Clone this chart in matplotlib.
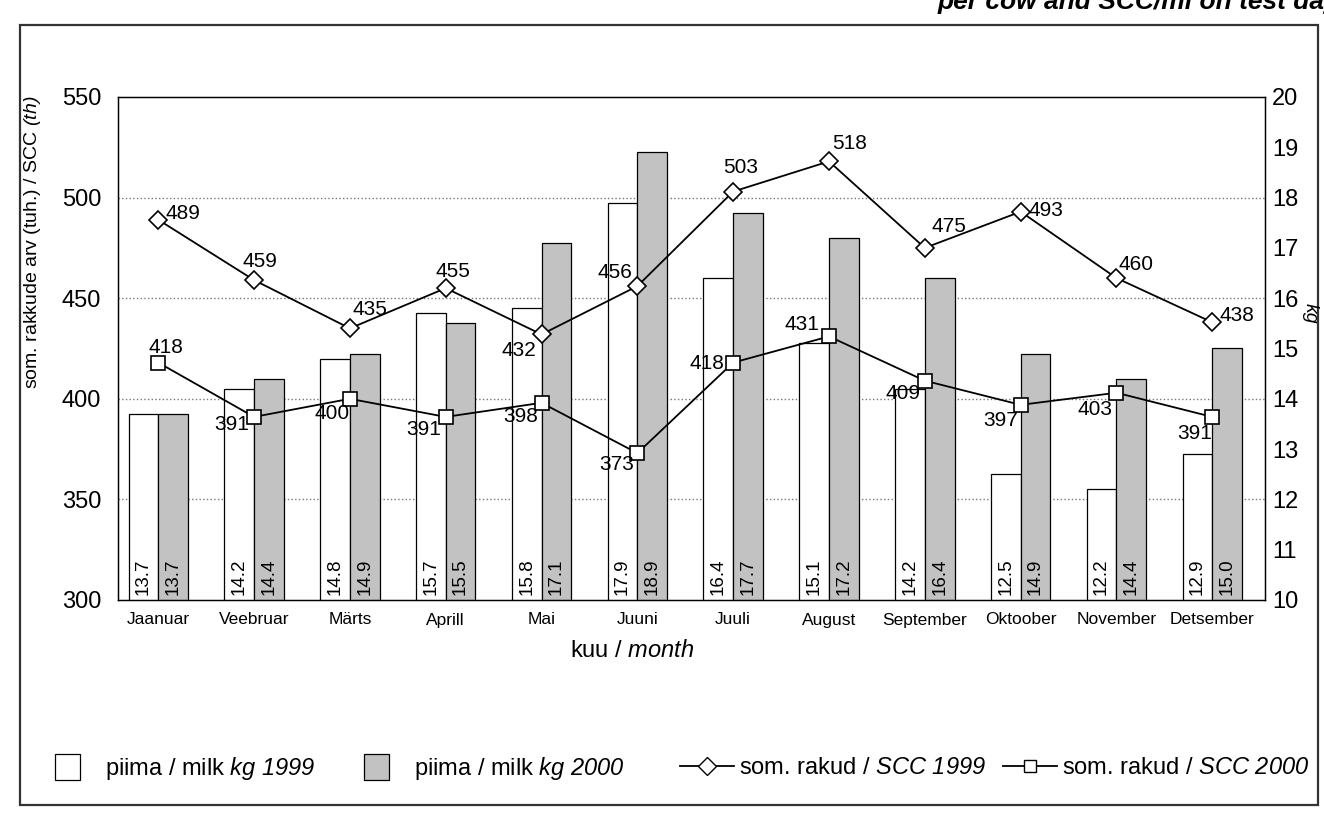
import numpy as np
import matplotlib.pyplot as plt
from matplotlib.patches import Patch, Rectangle
from matplotlib.lines import Line2D

plt.rcParams['font.family'] = ['Liberation Sans', 'DejaVu Sans']
# math parts are used only for the italic bits of the labels
plt.rcParams['mathtext.fontset'] = 'custom'
plt.rcParams['mathtext.rm'] = 'Liberation Sans:italic'
plt.rcParams['mathtext.it'] = 'Liberation Sans:italic'

# %% data
months = ["Jaanuar", "Veebruar", "Märts", "Aprill", "Mai", "Juuni", "Juuli",
          "August", "September", "Oktoober", "November", "Detsember"]
milk_1999 = [13.7, 14.2, 14.8, 15.7, 15.8, 17.9, 16.4, 15.1, 14.2, 12.5, 12.2, 12.9]
milk_2000 = [13.7, 14.4, 14.9, 15.5, 17.1, 18.9, 17.7, 17.2, 16.4, 14.9, 14.4, 15.0]
scc_1999 = [489, 459, 435, 455, 432, 456, 503, 518, 475, 493, 460, 438]
scc_2000 = [418, 391, 400, 391, 398, 373, 418, 431, 409, 397, 403, 391]
scc_ticks = [300, 350, 400, 450, 500, 550]
kg_ticks = list(range(10, 21))

# label offsets (pixels) for the point labels
off_1999 = [(25, 6), (6, 19), (20, 19), (7, 17), (-23, -16), (-22, 14),
            (7, 24), (21, 18), (24, 21), (25, 1), (20, 14), (25, 7)]
off_2000 = [(8, 15), (-22, -8), (-18, -15), (-22, -13), (-21, -14), (-21, -11),
            (-26, -1), (-27, 12), (-22, -13), (-20, -16), (-21, -17), (-18, -17)]

W, H = 1324, 816
fig = plt.figure(figsize=(W / 100, H / 100), dpi=100)
ax = fig.add_axes([118 / W, 1 - 600 / H, (1265 - 118) / W, (600 - 97) / H])

x = np.arange(len(months))
w = 0.31
gray = '#c2c2c2'

# bars on the kg axis (ticks on the right)
ax.bar(x - w / 2, milk_1999, w, color='white', edgecolor='black', linewidth=0.9, zorder=2)
ax.bar(x + w / 2, milk_2000, w, color=gray, edgecolor='black', linewidth=0.9, zorder=2)
for xi, a, b in zip(x, milk_1999, milk_2000):
    ax.text(xi - w / 2, 10.1, f"{a:.1f}", rotation=90, ha='center', va='bottom', fontsize=13.5, zorder=3)
    ax.text(xi + w / 2, 10.1, f"{b:.1f}", rotation=90, ha='center', va='bottom', fontsize=13.5, zorder=3)

ax.set_ylim(kg_ticks[0], kg_ticks[-1])
ax.set_yticks(kg_ticks)
ax.set_xlim(-0.42, 11.55)
ax.set_xticks(x, months)
ax.tick_params(axis='x', length=0, pad=9, labelsize=12.5)
for s in ax.spines.values():
    s.set_linewidth(1.0)

# SCC lines (ticks on the left)
ax2 = ax.twinx()
ax.yaxis.tick_right()
ax.tick_params(axis='y', length=0, pad=5, labelsize=17)
ax2.yaxis.tick_left()
ax2.set_ylim(scc_ticks[0], scc_ticks[-1])
ax2.set_yticks(scc_ticks)
ax2.tick_params(axis='y', length=0, pad=12, labelsize=17)

# gridlines belong to the SCC scale but sit behind the bars
for v in scc_ticks[1:-1]:
    kg = ax.transData.inverted().transform(ax2.transData.transform((0, v)))[1]
    ax.axhline(kg, linestyle=':', color='#777777', linewidth=1.0, zorder=1)

ax2.plot(x, scc_1999, '-D', color='black', lw=1.3, ms=9, mfc='white', mec='black', mew=1.2)
ax2.plot(x, scc_2000, '-s', color='black', lw=1.3, ms=10, mfc='white', mec='black', mew=1.2)
for xi, v, o in zip(x, scc_1999, off_1999):
    ax2.annotate(str(v), (xi, v), xytext=o, textcoords='offset pixels', ha='center', va='center', fontsize=15)
for xi, v, o in zip(x, scc_2000, off_2000):
    ax2.annotate(str(v), (xi, v), xytext=o, textcoords='offset pixels', ha='center', va='center', fontsize=15)

# axis titles
fig.text(632 / W, 1 - 651 / H, r"kuu / $month$", ha='center', va='center', fontsize=17)
fig.text(33 / W, 1 - 242 / H, r"som. rakkude arv (tuh.) / SCC $(th)$",
         rotation=90, ha='center', va='center', fontsize=14)
fig.text(1310 / W, 1 - 313 / H, "kg", style='italic', rotation=270, ha='center', va='center', fontsize=14)

# cut-off title on top
fig.text(938 / W, 1 - 9 / H, "per cow and SCC/ml on test day", fontsize=19,
         fontweight='bold', style='italic', va='baseline', ha='left')

# outer frame
fig.add_artist(Rectangle((20 / W, 1 - 805 / H), 1298 / W, 780 / H, transform=fig.transFigure,
                         fill=False, edgecolor='#333333', linewidth=1.6))

# legends
h_bars = [Patch(facecolor='white', edgecolor='black', linewidth=0.9),
          Patch(facecolor=gray, edgecolor='black', linewidth=0.9)]
fig.legend(h_bars, [r"piima / milk $kg\ 1999$", r"piima / milk $kg\ 2000$"],
           ncol=2, loc='center left', bbox_to_anchor=(55 / W, 1 - 768 / H), frameon=False,
           fontsize=17, handlelength=1.05, handleheight=1.35, handletextpad=1.05,
           columnspacing=2.1, borderpad=0, borderaxespad=0)
h_lines = [Line2D([], [], color='black', lw=1.3, marker='D', ms=9, mfc='white'),
           Line2D([], [], color='black', lw=1.3, marker='s', ms=9, mfc='white')]
fig.legend(h_lines, [r"som. rakud / $SCC\ 1999$", r"som. rakud / $SCC\ 2000$"],
           ncol=2, loc='center left', bbox_to_anchor=(680 / W, 1 - 768 / H), frameon=False,
           fontsize=17, handlelength=2.3, handletextpad=0.2, columnspacing=0.7,
           numpoints=1, borderpad=0, borderaxespad=0)

fig.savefig("out.png", dpi=100)
